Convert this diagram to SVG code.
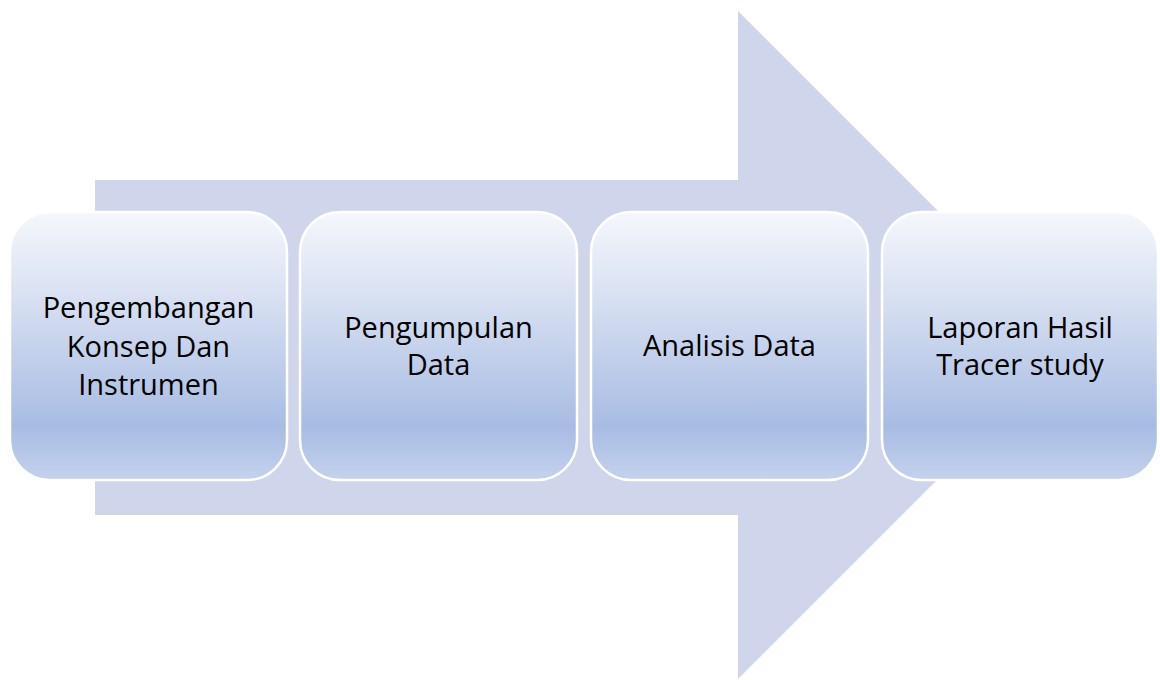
<svg xmlns="http://www.w3.org/2000/svg" width="1160" height="680" viewBox="0 0 1160 680">
<defs>
<linearGradient id="boxGrad" x1="0" y1="0" x2="0" y2="1">
<stop offset="0" stop-color="#f5f7fc"/>
<stop offset="0.35" stop-color="#d5def1"/>
<stop offset="0.8" stop-color="#a8bce3"/>
<stop offset="1" stop-color="#c4d2ec"/>
</linearGradient>
<style>
.box{fill:url(#boxGrad);stroke:#ffffff;stroke-width:2.5}
.lbl{font-family:"Open Sans","DejaVu Sans",sans-serif;font-size:29px;fill:#000000;text-anchor:middle}
.arrow{fill:#cfd5ea}
</style>
</defs>
<rect width="1160" height="680" fill="#ffffff"/>
<g id="arrow">
<path class="arrow" d="M95 180 L738 180 L738 11 L1072 345 L738 679 L738 515 L95 515 Z"/>
</g>
<g id="node1">
<rect class="box" x="10" y="212" width="277" height="268" rx="40" ry="40"/>
<text class="lbl" x="148.5" y="318">Pengembangan</text>
<text class="lbl" x="148.5" y="357">Konsep Dan</text>
<text class="lbl" x="148.5" y="395">Instrumen</text>
</g>
<g id="node2">
<rect class="box" x="300" y="212" width="277" height="268" rx="40" ry="40"/>
<text class="lbl" x="438.5" y="338">Pengumpulan</text>
<text class="lbl" x="438.5" y="375">Data</text>
</g>
<g id="node3">
<rect class="box" x="591" y="212" width="277" height="268" rx="40" ry="40"/>
<text class="lbl" x="729.5" y="356">Analisis Data</text>
</g>
<g id="node4">
<rect class="box" x="882" y="212" width="276" height="268" rx="40" ry="40"/>
<text class="lbl" x="1020" y="338">Laporan Hasil</text>
<text class="lbl" x="1020" y="375">Tracer study</text>
</g>
<g id="connectors"></g>
</svg>
